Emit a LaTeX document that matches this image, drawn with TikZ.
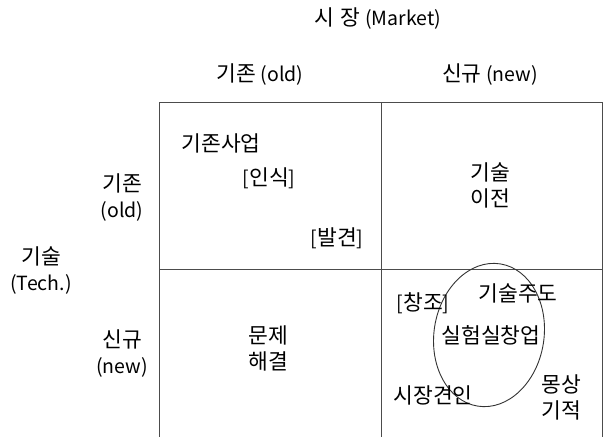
\documentclass[tikz,border=0pt]{standalone}
\usepackage{fontspec}
\setmainfont{Noto Sans CJK KR}
\newcommand\latn[1]{{\fontsize{19.5}{26}\selectfont #1}}
\begin{document}
\begin{tikzpicture}[x=1pt,y=1pt,
  lbl/.style={inner sep=0pt, font=\fontsize{21.5}{26}\selectfont, align=center, text=black},
  gridline/.style={draw=black!70, line width=1pt}]
\useasboundingbox (0,0) rectangle (604,-436);
\begin{scope}
\clip (0,0) rectangle (604,-436);
% grid
\coordinate (tl) at (159,-102);
\coordinate (tr) at (602,-102);
\coordinate (bl) at (159,-440);
\coordinate (br) at (602,-440);
\coordinate (tm) at (381,-102);
\coordinate (bm) at (381,-440);
\coordinate (ml) at (159,-269);
\coordinate (mr) at (602,-269);
\draw[gridline] (tl) rectangle (br);
\draw[gridline] (tm) -- (bm);
\draw[gridline] (ml) -- (mr);
\end{scope}
% headers
\node[lbl] (market) at (378,-19) {시\hspace{6pt}장 \latn{(Market)}};
\node[lbl] (mold) at (260,-75) {기존 \latn{(old)}};
\node[lbl] (mnew) at (490,-75) {신규 \latn{(new)}};
\node[lbl] (tech) at (41,-271) {기술\\\latn{(Tech.)}};
\node[lbl] (told) at (122,-198) {기존\\\latn{(old)}};
\node[lbl] (tnew) at (122,-354) {신규\\\latn{(new)}};
% top-left
\node[lbl] (exist) at (221,-143) {기존사업};
\node[lbl] (recog) at (269,-178) {\latn{[}인식\latn{]}};
\node[lbl] (disc) at (337,-238) {\latn{[}발견\latn{]}};
% top-right
\node[lbl] (transfer) at (490,-185) {기술\\이전};
% bottom-left
\node[lbl] (solve) at (268,-348) {문제\\해결};
% bottom-right
\draw[black!80, line width=0.9pt] (489,-335) ellipse [x radius=55, y radius=72, rotate=-9];
\node[lbl] (create) at (423,-303) {\latn{[}창조\latn{]}};
\node[lbl] (techlead) at (518,-293) {기술주도};
\node[lbl] (lab) at (491,-335) {실험실창업};
\node[lbl] (pull) at (433,-395) {시장견인};
\node[lbl] (dream) at (561,-397) {몽상\\기적};
\end{tikzpicture}
\end{document}
